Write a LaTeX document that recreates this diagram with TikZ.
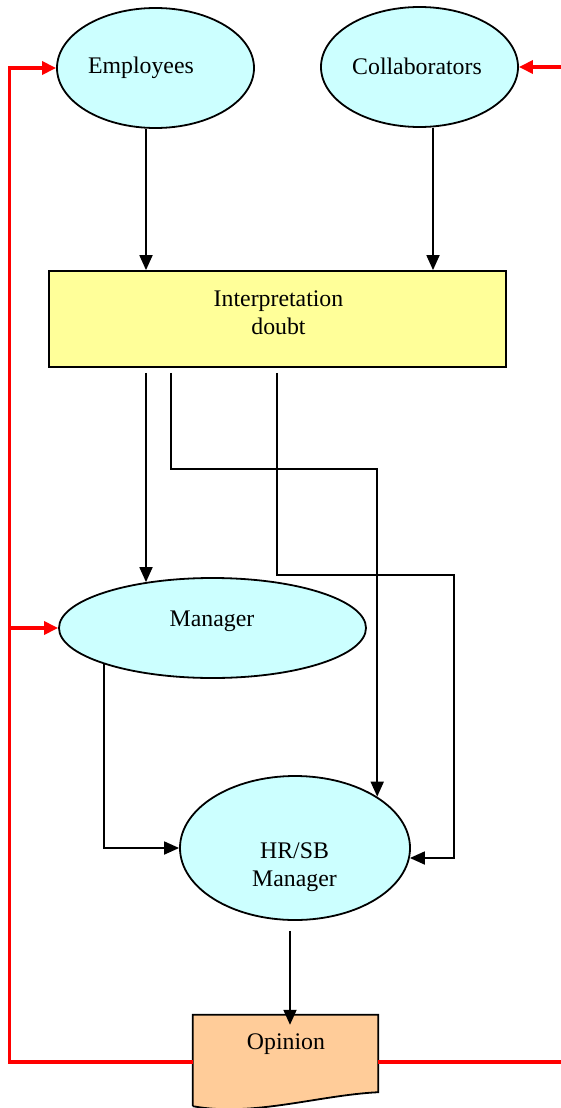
\documentclass[tikz,border=0pt]{standalone}
\usepackage{fontspec}
\setmainfont{Liberation Serif}
\usetikzlibrary{shapes.geometric,arrows.meta}
\definecolor{cyanfill}{HTML}{CCFFFF}
\definecolor{yellowfill}{HTML}{FFFF99}
\definecolor{orangefill}{HTML}{FFCC99}
\pgfdeclarelayer{background}
\pgfsetlayers{background,main}
\begin{document}
\begin{tikzpicture}[x=1pt,y=-1pt,
  ell/.style={ellipse,draw=black,line width=1.8pt,fill=cyanfill,inner sep=0pt},
  lbl/.style={inner sep=0pt,font=\fontsize{23.8}{28}\selectfont,align=center},
  arr/.style={draw=black,line width=1.8pt,-{Triangle[length=15pt,width=13pt]}},
  rarr/.style={draw=red,line width=3.3pt,-{Triangle[length=14pt,width=13pt]}},
  rline/.style={draw=red,line width=3.3pt}]
\useasboundingbox (0,0) rectangle (561,1108);
% nodes
\node[ell,minimum width=197pt,minimum height=120pt] (emp) at (155.5,68) {};
\node[lbl] (empL) at (141,68) {Employees};
\node[ell,minimum width=197pt,minimum height=120pt] (col) at (419.5,67) {};
\node[lbl] (colL) at (417,66.5) {Collaborators};
\node[draw=black,line width=1.8pt,fill=yellowfill,minimum width=457pt,minimum height=96pt,inner sep=0pt] (int) at (277.5,319) {};
\node[lbl] (intL) at (278.5,312.5) {Interpretation\\doubt};
\node[ell,minimum width=307pt,minimum height=100pt] (man) at (212.5,628) {};
\node[lbl] (manL) at (212,621) {Manager};
\node[ell,minimum width=230pt,minimum height=144pt] (hr) at (295,848) {};
\node[lbl] (hrL) at (294.5,867) {HR/SB\\Manager};
\node[minimum width=185pt,minimum height=94pt,inner sep=0pt] (op) at (285.5,1062) {};
\fill[orangefill] (op.north west) -- (op.north east) -- ([yshift=17pt]op.south east)
  .. controls ([xshift=-60pt,yshift=14pt]op.south east) and ([xshift=60pt,yshift=-8pt]op.south west) .. ([yshift=3pt]op.south west) -- cycle;
\draw[line width=1.8pt] ([yshift=3pt]op.south west) -- (op.north west) -- (op.north east) -- ([yshift=17pt]op.south east)
  .. controls ([xshift=-60pt,yshift=14pt]op.south east) and ([xshift=60pt,yshift=-8pt]op.south west) .. ([yshift=3pt]op.south west);
\node[lbl] (opL) at (286,1044) {Opinion};
% black connectors
\draw[arr] ([xshift=-9.5pt]emp.south) -- ([xshift=-9.5pt]emp.south |- int.north);
\draw[arr] ([xshift=13.5pt]col.south) -- ([xshift=13.5pt]col.south |- int.north);
\draw[arr] ([xshift=-131.5pt,yshift=-5pt]int.south) -- ([xshift=-131.5pt,yshift=-5pt]int.south |- man.north);
\draw[arr] ([xshift=-106.5pt,yshift=-5pt]int.south) -- ++(0,96) -| (hr.32.2);
\draw[arr] ([xshift=-0.5pt,yshift=-5pt]int.south) -- ++(0,202) -| ([xshift=43pt,yshift=-10pt]hr.east) -- ([xshift=-1pt,yshift=-10pt]hr.east);
\begin{pgfonlayer}{background}
\draw[arr] ([xshift=-108.5pt]man.center) |- (hr.west);
\end{pgfonlayer}
\draw[arr] ([xshift=-5pt,yshift=-10pt]hr.south) -- ([xshift=-5pt,yshift=-10pt]hr.south |- op.north);
% red connectors
\draw[rarr] (op.west) -- ++(-183,0) |- (emp.west);
\draw[rarr] ([xshift=-49pt]man.west) -- (man.west);
\draw[rline] (op.east) -- ++(183,0);
\draw[rarr] ([xshift=43pt]col.east) -- (col.east);
\end{tikzpicture}
\end{document}
